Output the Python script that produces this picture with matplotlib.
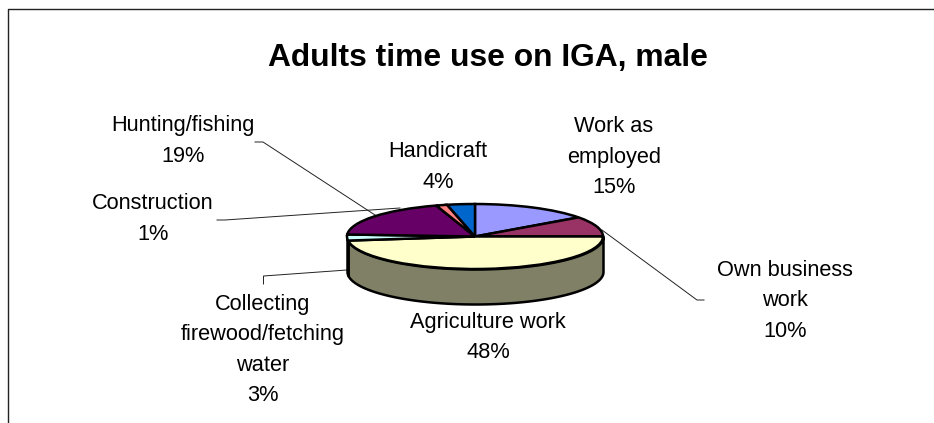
#!/usr/bin/env python
# -*- coding: utf-8 -*-
"""3D style pie of adult male time use on IGA."""

import matplotlib

matplotlib.use("Agg")
import matplotlib.pyplot as plt
import numpy as np

plt.rcParams["font.family"] = ["Liberation Sans", "DejaVu Sans"]

TITLE = "Adults time use on IGA, male"
LABELS = [
    "Work as\nemployed",
    "Own business\nwork",
    "Agriculture work",
    "Collecting\nfirewood/fetching\nwater",
    "Hunting/fishing",
    "Construction",
    "Handicraft",
]
# slice sizes, the printed labels are rounded
VALUES = [15, 10, 48, 3, 19.1, 1.4, 3.5]
PERCENT_LABELS = ["15%", "10%", "48%", "3%", "19%", "1%", "4%"]
COLORS = ["#9999FF", "#993366", "#FFFFCC", "#CCFFFF", "#660066", "#FF8080", "#0066CC"]

W, H = 934, 423
CX, CY, RX, RY = 475, 236.5, 128, 32.5
DEPTH = 35

# label centre in pixels (x, y of the text block), then leader line points
LABEL_POS = [(614, 157), (785, 301), (488, 337.5), (263, 350), (183, 141), (153, 219), (438, 167)]
LEADERS = [
    None,
    [(602, 230), (697, 300), (704, 300)],
    None,
    [(347, 270), (263.5, 276), (263.5, 284)],
    [(375, 215), (263, 142), (255, 142)],
    [(400, 208), (225, 220), (217, 220)],
    None,
]


def side_colour(hex_colour):
    rgb = np.array(matplotlib.colors.to_rgb(hex_colour))
    return tuple(rgb * 0.5)


def main():
    fig = plt.figure(figsize=(W / 100, H / 100), dpi=100, facecolor="white")
    page = fig.add_axes([0, 0, 1, 1])
    page.set_xlim(0, W)
    page.set_ylim(H, 0)
    page.axis("off")

    # chart frame, only left and top are visible in the crop
    page.plot([7.5, 7.5, W], [H, 9.5, 9.5], color="#222222", lw=1.0)

    page.text(487.5, 58, TITLE, ha="center", va="center", fontsize=22.9, fontweight="bold", color="black")

    # pie axes: unit circle stretched to the ellipse box
    ax = fig.add_axes([(CX - RX) / W, 1 - (CY + RY) / H, 2 * RX / W, 2 * RY / H])
    depth_units = DEPTH / RY
    fracs = np.array(VALUES) / sum(VALUES)
    edges = np.concatenate([[0], np.cumsum(fracs)]) * 360

    # side wall first, only the front half of the ellipse shows
    for i, colour in enumerate(COLORS):
        lo = max(edges[i], 90)
        hi = min(edges[i + 1], 270)
        if lo >= hi:
            continue
        t = np.radians(np.linspace(lo, hi, 120))
        x = np.sin(t)
        y = np.cos(t)
        ax.fill_between(
            x, y, y - depth_units, facecolor=side_colour(colour), edgecolor="black",
            linewidth=1.8, clip_on=False, zorder=1,
        )

    ax.pie(
        VALUES, colors=COLORS, startangle=90, counterclock=False, radius=1,
        wedgeprops={"edgecolor": "black", "linewidth": 1.8, "clip_on": False, "zorder": 2},
    )
    ax.set_aspect("auto")
    ax.set_xlim(-1, 1)
    ax.set_ylim(-1, 1)
    ax.axis("off")

    for leader in LEADERS:
        if leader is None:
            continue
        xs, ys = zip(*leader)
        page.plot(xs, ys, color="#222222", lw=0.7, zorder=3)

    for (x, y), label, percent in zip(LABEL_POS, LABELS, PERCENT_LABELS):
        page.text(
            x, y, f"{label}\n{percent}", ha="center", va="center", fontsize=15.7,
            color="black", linespacing=1.58,
        )

    fig.savefig("out.png", dpi=100)
    plt.close(fig)


if __name__ == "__main__":
    main()
